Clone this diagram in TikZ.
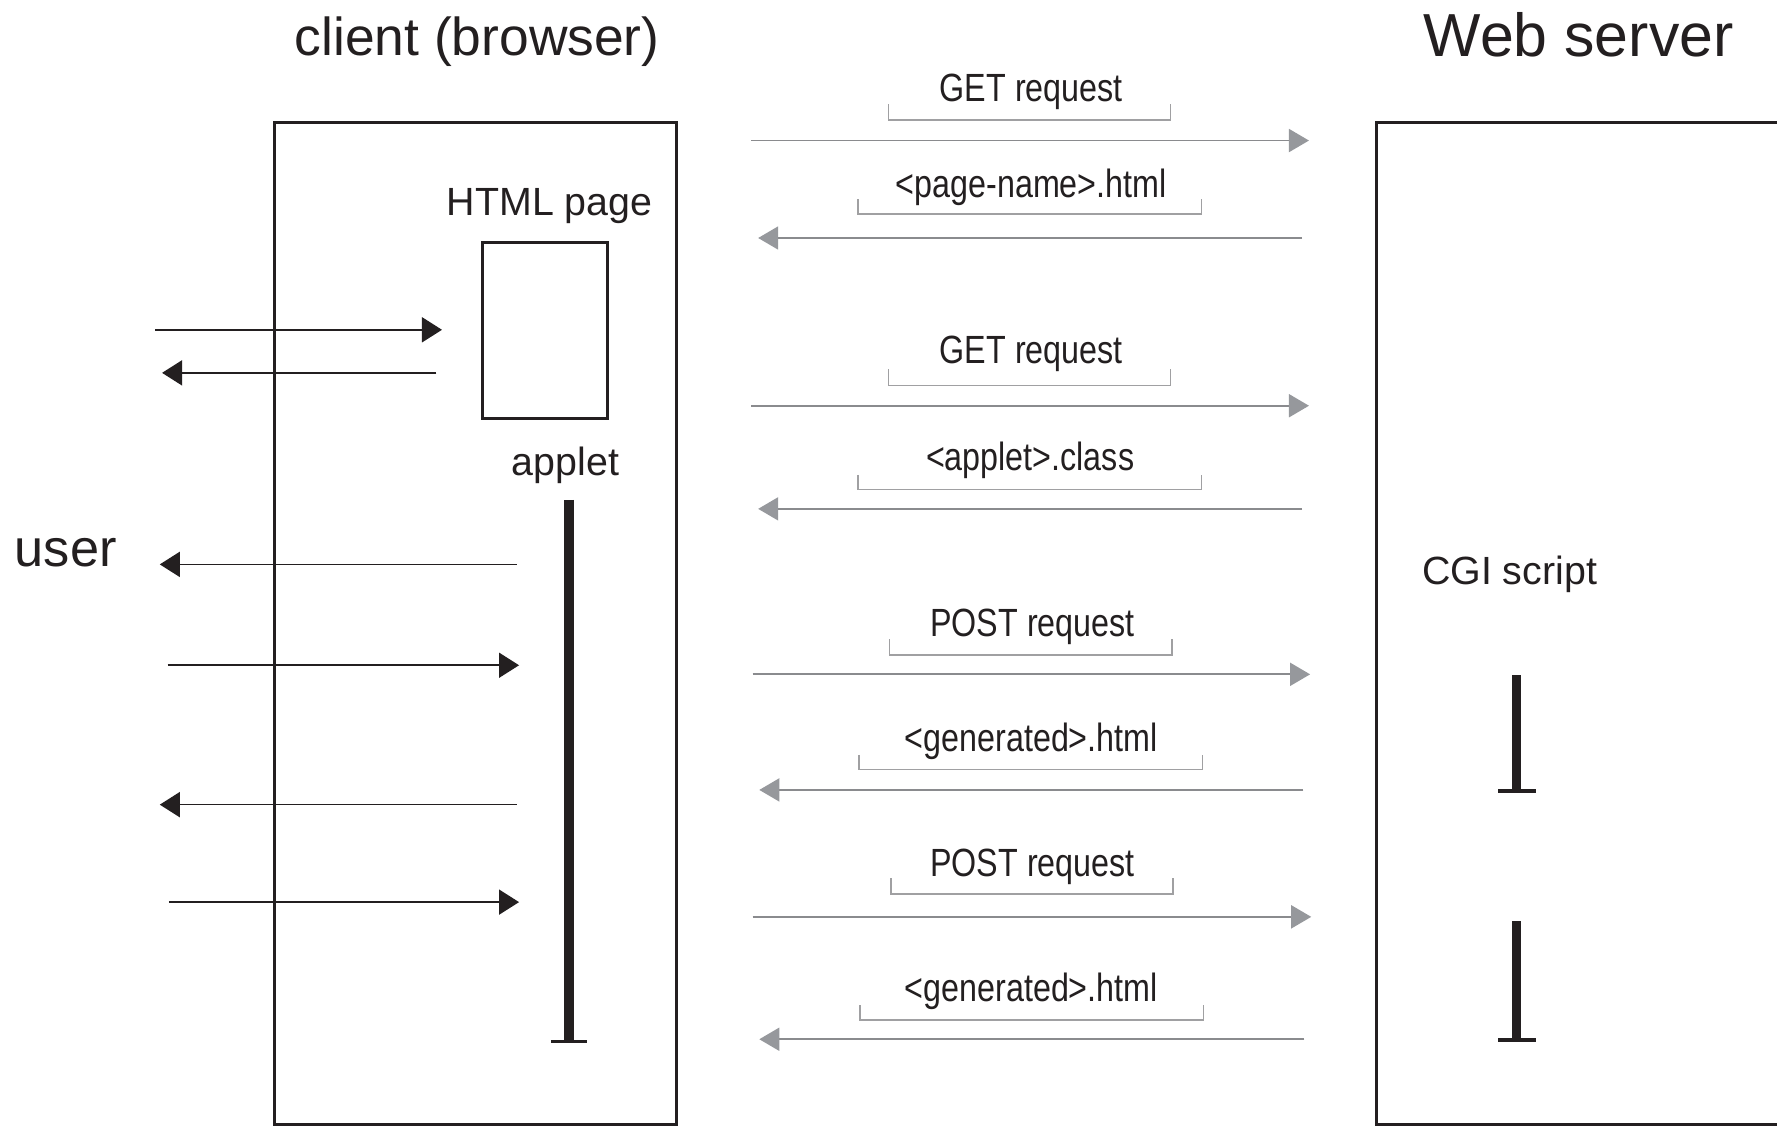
\documentclass[tikz,border=0pt]{standalone}
\usepackage{fontspec}
\setmainfont{Liberation Sans}
\newfontfamily\narrowfont{Liberation Sans}[FakeStretch=0.82]
\usetikzlibrary{arrows.meta}
\definecolor{ink}{RGB}{35,31,32}
\definecolor{lgray}{RGB}{138,139,142}
\definecolor{hgray}{RGB}{150,152,156}
\definecolor{bgray}{RGB}{160,160,162}
\tikzset{
  txt/.style={inner sep=0pt, text=ink},
  lbl/.style={txt, font=\narrowfont\fontsize{11.2}{13}\selectfont},
  mid/.style={txt, font=\fontsize{11.2}{13}\selectfont},
  box/.style={draw=ink, line width=0.85pt},
  uarrow/.style={draw=ink, line width=0.45pt, -{Triangle[length=0.2cm,width=0.25cm]}},
  sarrow/.style={draw=lgray, line width=0.5pt, -{Triangle[length=0.2cm,width=0.23cm,color=hgray]}},
  brk/.style={draw=bgray, line width=0.45pt},
  bar/.style={draw=ink, line width=2.7pt},
  foot/.style={draw=ink, line width=1.1pt},
}
\begin{document}
\begin{tikzpicture}[x=0.011333cm, y=-0.011333cm]
\useasboundingbox (0,0) rectangle (1568,994);
\clip (0,0) rectangle (1568,994);
\fill[white] (0,0) rectangle (1568,994);

% titles
\node[txt, font=\fontsize{15.2}{18}\selectfont] (client) at (421,37) {client (browser)};
\node[txt, font=\fontsize{17.3}{20}\selectfont] (server) at (1393,31) {Web server};
\node[txt, font=\fontsize{14.9}{18}\selectfont] (user) at (58,488) {user};

% boxes
\draw[box] (242,108) rectangle (597,992.5);
\draw[box] (1600,108) -- (1215,108) -- (1215,992.5) -- (1600,992.5);
\node[mid] (html) at (485,182) {HTML page};
\node[box, inner sep=0pt, minimum width=1.258cm, minimum height=1.757cm, anchor=north west] (page) at (424,213) {};
\node[mid] (applet) at (499,411) {applet};
\node[mid] (cgi) at (1332,507) {CGI script};

% lifelines
\draw[bar] (502,441) -- (502,919);
\draw[foot] (486,919) -- (518,919);
\draw[bar] (1338,596) -- (1338,698);
\draw[foot] (1322,698) -- (1355,698);
\draw[bar] (1338,813) -- (1338,918);
\draw[foot] (1322,918) -- (1355,918);

% user arrows
\coordinate (u1s) at (137,291); \coordinate (u1e) at (390,291);
\coordinate (u2s) at (385,329); \coordinate (u2e) at (143,329);
\coordinate (u3s) at (456,498); \coordinate (u3e) at (141,498);
\coordinate (u4s) at (148,587); \coordinate (u4e) at (458,587);
\coordinate (u5s) at (456,710); \coordinate (u5e) at (141,710);
\coordinate (u6s) at (149,796); \coordinate (u6e) at (458,796);
\foreach \i in {1,...,6} {\draw[uarrow] (u\i s) -- (u\i e);}

% server arrows
\coordinate (s1s) at (663,124);  \coordinate (s1e) at (1155,124);
\coordinate (s2s) at (1149,210); \coordinate (s2e) at (669,210);
\coordinate (s3s) at (663,358);  \coordinate (s3e) at (1155,358);
\coordinate (s4s) at (1149,449); \coordinate (s4e) at (669,449);
\coordinate (s5s) at (664,595);  \coordinate (s5e) at (1156,595);
\coordinate (s6s) at (1150,697); \coordinate (s6e) at (670,697);
\coordinate (s7s) at (664,809);  \coordinate (s7e) at (1157,809);
\coordinate (s8s) at (1151,917); \coordinate (s8e) at (670,917);
\foreach \i in {1,...,8} {\draw[sarrow] (s\i s) -- (s\i e);}

% labels with brackets
\node[lbl] (l1) at (910,81) {GET request};
\draw[brk] (784,92) -- (784,106) -- (1033,106) -- (1033,92);
\node[lbl] (l2) at (910,165) {\textless page-name\textgreater.html};
\draw[brk] (757,176) -- (757,189) -- (1060,189) -- (1060,176);
\node[lbl] (l3) at (910,312) {GET request};
\draw[brk] (784,326) -- (784,340) -- (1033,340) -- (1033,326);
\node[lbl] (l4) at (909,406) {\textless applet\textgreater.class};
\draw[brk] (757,419) -- (757,432) -- (1060,432) -- (1060,419);
\node[lbl] (l5) at (911,553) {POST request};
\draw[brk] (785,564) -- (785,578) -- (1034,578) -- (1034,564);
\node[lbl] (l6) at (910,654) {\textless generated\textgreater.html};
\draw[brk] (758,666) -- (758,679) -- (1061,679) -- (1061,666);
\node[lbl] (l7) at (911,765) {POST request};
\draw[brk] (786,775) -- (786,789) -- (1035,789) -- (1035,775);
\node[lbl] (l8) at (910,875) {\textless generated\textgreater.html};
\draw[brk] (759,887) -- (759,900) -- (1062,900) -- (1062,887);
\end{tikzpicture}
\end{document}
